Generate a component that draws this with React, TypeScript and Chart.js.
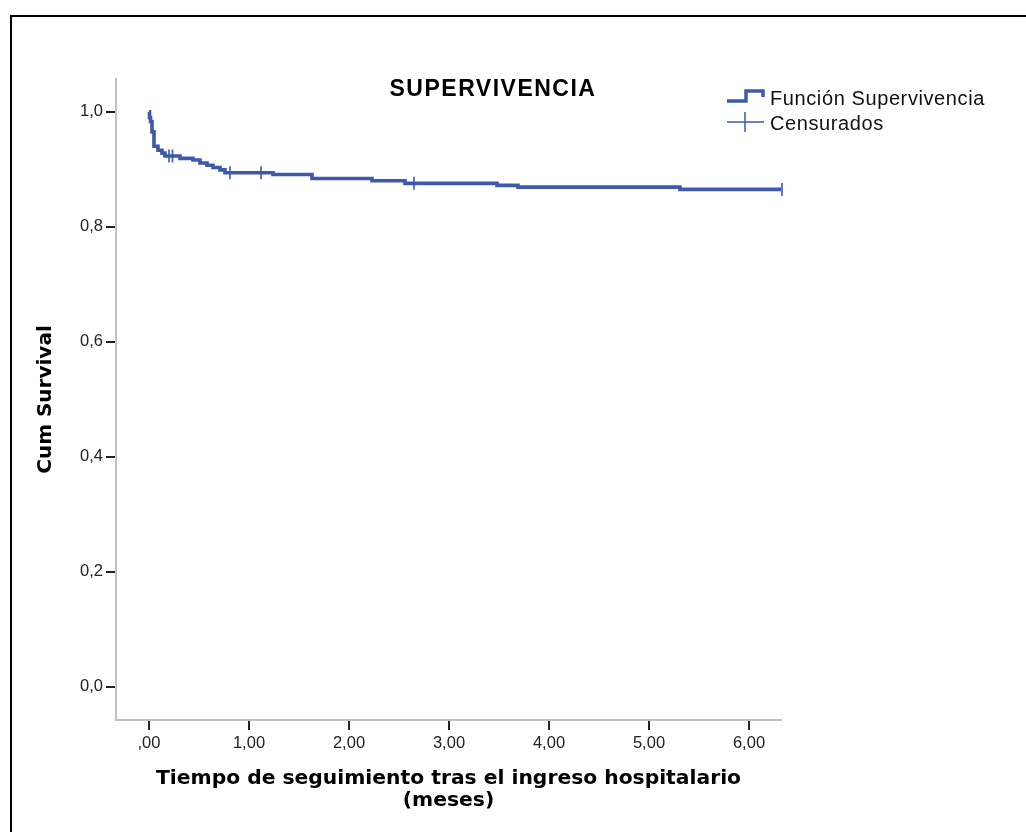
import React, { useEffect, useRef } from "react";
import { Chart, registerables } from "chart.js";

Chart.register(...registerables);

// Kaplan-Meier steps (time in months, cumulative survival)
const eventTimes = [0, 0.005, 0.015, 0.03, 0.05, 0.09, 0.13, 0.16, 0.31, 0.44, 0.51, 0.58, 0.64, 0.71, 0.76, 1.24, 1.63, 2.23, 2.56, 3.48, 3.69, 5.31, 6.32];
const survival = [1.0, 0.99, 0.983, 0.965, 0.94, 0.933, 0.928, 0.923, 0.919, 0.916, 0.911, 0.907, 0.903, 0.899, 0.894, 0.891, 0.884, 0.88, 0.8755, 0.872, 0.869, 0.865, 0.865];

// Censored observations
const censoredTimes = [0.2, 0.235, 0.81, 1.12, 2.65, 6.33];
const censoredSurvival = [0.923, 0.923, 0.894, 0.894, 0.8755, 0.865];

const xTickValues = [0, 1, 2, 3, 4, 5, 6];
const xTickLabels = [",00", "1,00", "2,00", "3,00", "4,00", "5,00", "6,00"];
const yTickValues = [0, 0.2, 0.4, 0.6, 0.8, 1.0];
const yTickLabels = ["0,0", "0,2", "0,4", "0,6", "0,8", "1,0"];

const titleText = "SUPERVIVENCIA";
const legendLabels = ["Función Supervivencia", "Censurados"];
const xAxisTitle = ["Tiempo de seguimiento tras el ingreso hospitalario", "(meses)"];
const yAxisTitle = "Cum Survival";

const BLUE = "#3e58ac";

const overlayPlugin = {
  id: "overlay",
  afterDraw(chart: any) {
    const ctx = chart.ctx as CanvasRenderingContext2D;
    ctx.save();
    // Title
    ctx.fillStyle = "#000";
    ctx.font = "bold 23px 'Liberation Sans', Arial, sans-serif";
    (ctx as any).letterSpacing = "1.5px";
    ctx.textAlign = "center";
    ctx.textBaseline = "middle";
    ctx.fillText(titleText, 493, 90);

    // Legend symbols
    ctx.strokeStyle = BLUE;
    ctx.lineWidth = 3.5;
    ctx.lineCap = "butt";
    ctx.lineJoin = "miter";
    ctx.beginPath();
    ctx.moveTo(727, 101);
    ctx.lineTo(746, 101);
    ctx.lineTo(746, 91);
    ctx.lineTo(763, 91);
    ctx.lineTo(763, 97);
    ctx.stroke();

    ctx.lineWidth = 1.5;
    ctx.beginPath();
    ctx.moveTo(727, 122);
    ctx.lineTo(764, 122);
    ctx.moveTo(745, 112);
    ctx.lineTo(745, 132);
    ctx.stroke();

    (ctx as any).letterSpacing = "0.6px";
    ctx.fillStyle = "#111";
    ctx.font = "20px 'Liberation Sans', Arial, sans-serif";
    ctx.textAlign = "left";
    ctx.textBaseline = "middle";
    ctx.fillText(legendLabels[0], 770, 99);
    ctx.fillText(legendLabels[1], 770, 124);
    ctx.restore();
  },
};

export default function App() {
  const canvasRef = useRef<HTMLCanvasElement | null>(null);

  useEffect(() => {
    document.body.style.margin = "0";
    const canvas = canvasRef.current;
    if (!canvas) return;

    const kmData = eventTimes.map((t, i) => ({ x: t, y: survival[i] }));
    const censData = censoredTimes.map((t, i) => ({ x: t, y: censoredSurvival[i] }));

    const tickFont = { family: "'Liberation Sans', Arial, sans-serif", size: 16.5 };

    const chart = new Chart(canvas, {
      type: "line",
      data: {
        datasets: [
          {
            label: legendLabels[0],
            data: kmData,
            borderColor: BLUE,
            backgroundColor: BLUE,
            borderWidth: 3.6,
            stepped: true,
            pointRadius: 0,
            fill: false,
            order: 2,
          },
          {
            label: legendLabels[1],
            data: censData,
            showLine: false,
            clip: false,
            borderColor: BLUE,
            backgroundColor: BLUE,
            pointStyle: "line",
            rotation: 90,
            pointRadius: 6.5,
            pointBorderWidth: 1.6,
            order: 1,
          } as any,
        ],
      },
      options: {
        animation: false,
        responsive: false,
        devicePixelRatio: 1,
        layout: { padding: { left: 0, top: 79, right: 245, bottom: 0 } },
        plugins: {
          legend: { display: false },
          title: { display: false },
          tooltip: { enabled: false },
        },
        scales: {
          x: {
            type: "linear",
            min: -0.33,
            max: 6.32,
            afterBuildTicks: (s: any) => {
              s.ticks = xTickValues.map((v) => ({ value: v }));
            },
            afterFit: (s: any) => {
              s.height = 112;
            },
            ticks: {
              autoSkip: false,
              maxRotation: 0,
              padding: 4,
              color: "#222",
              font: tickFont,
              callback: (v: any) => xTickLabels[xTickValues.indexOf(Number(v))],
            },
            grid: {
              drawOnChartArea: false,
              drawTicks: true,
              tickLength: 10,
              color: "#222",
              lineWidth: 2,
            },
            border: { display: true, color: "#c0c0c0", width: 2 },
            title: {
              display: true,
              text: xAxisTitle,
              color: "#000",
              font: { family: "'DejaVu Sans', sans-serif", size: 20.3, weight: "bold", lineHeight: 1.1 },
              padding: { top: 0, bottom: 20 },
            },
          },
          y: {
            type: "linear",
            min: -0.058,
            max: 1.057,
            afterBuildTicks: (s: any) => {
              s.ticks = yTickValues.map((v) => ({ value: v }));
            },
            afterFit: (s: any) => {
              s.width = 116;
            },
            ticks: {
              padding: 3,
              color: "#222",
              font: tickFont,
              callback: (v: any) => {
                const idx = yTickValues.findIndex((t) => Math.abs(t - Number(v)) < 1e-9);
                return yTickLabels[idx];
              },
            },
            grid: {
              drawOnChartArea: false,
              drawTicks: true,
              tickLength: 10,
              color: "#222",
              lineWidth: 2,
            },
            border: { display: true, color: "#c0c0c0", width: 2 },
            title: {
              display: true,
              text: yAxisTitle,
              color: "#000",
              font: { family: "'DejaVu Sans', sans-serif", size: 20, weight: "bold", lineHeight: 1.2 },
              padding: { top: 34, bottom: 0 },
            },
          },
        },
      } as any,
      plugins: [overlayPlugin],
    });

    return () => chart.destroy();
  }, []);

  return (
    <div
      style={{
        position: "fixed",
        left: 0,
        top: 0,
        width: 1026,
        height: 832,
        overflow: "hidden",
        background: "#fff",
      }}
    >
      <canvas ref={canvasRef} width={1026} height={832} style={{ position: "absolute", left: 0, top: 0 }} />
      <div
        style={{
          position: "absolute",
          left: 10,
          top: 15,
          width: 1100,
          height: 900,
          border: "2px solid #000",
          pointerEvents: "none",
        }}
      />
    </div>
  );
}
